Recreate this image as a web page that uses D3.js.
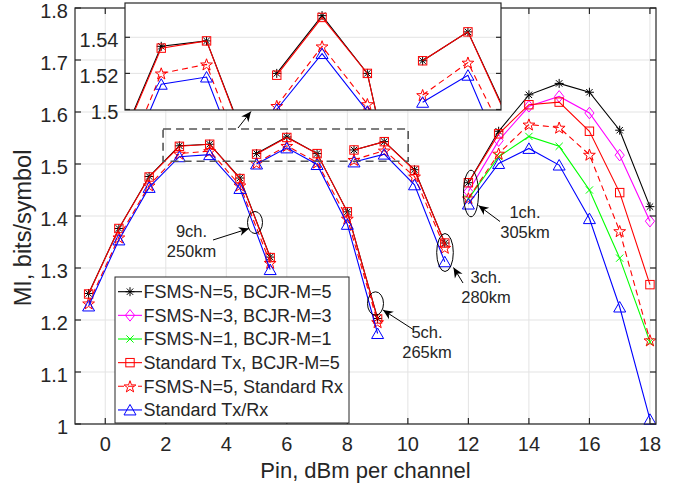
<!DOCTYPE html>
<html><head><meta charset="utf-8">
<script src="https://cdn.jsdelivr.net/npm/d3@7"></script>
<style>
body{margin:0;background:#fff}
svg{display:block}
text{font-family:"Liberation Sans",Arial,Helvetica,sans-serif;fill:#262626}
</style>
</head><body>
<svg id="c" width="678" height="489"></svg>
<script>
// ---------- DATA ----------
// Pin values (dBm per channel); null separates the 9ch / 5ch / 3ch / 1ch groups
const pin = [-0.55,0.45,1.45,2.45,3.45,4.45,5.45, null, 5,6,7,8,9, null, 8.22,9.22,10.22,11.22, null, 12,13,14,15,16,17,18];
const fsmsN5M5 = [1.251,1.376,1.476,1.535,1.538,1.473,1.321, null, 1.520,1.552,1.520,1.408,1.203, null, 1.527,1.543,1.489,1.348, null, 1.464,1.563,1.633,1.655,1.638,1.565,1.418];
const fsmsN3M3 = [null,null,null,null,null,null,null, null, null,null,null,null,null, null, null,null,null,null, null, 1.447,1.545,1.611,1.630,1.598,1.517,1.390];
const fsmsN1M1 = [null,null,null,null,null,null,null, null, null,null,null,null,null, null, null,null,null,null, null, 1.433,1.514,1.553,1.534,1.450,1.319,1.158];
const stdTxM5  = [1.250,1.376,1.475,1.534,1.538,1.472,1.320, null, 1.519,1.551,1.520,1.408,1.202, null, 1.527,1.543,1.488,1.348, null, 1.464,1.558,1.614,1.619,1.563,1.445,1.268];
const fsmsN5StdRx = [1.232,1.359,1.459,1.520,1.525,1.459,1.310, null, 1.502,1.535,1.503,1.395,1.196, null, 1.508,1.526,1.476,1.339, null, 1.434,1.520,1.576,1.570,1.518,1.371,1.161];
const stdTxRx  = [1.227,1.354,1.455,1.514,1.518,1.453,1.297, null, 1.500,1.531,1.499,1.384,1.174, null, 1.504,1.519,1.460,1.312, null, 1.423,1.501,1.530,1.498,1.395,1.225,1.009];

const seriesNames = ["FSMS-N=5, BCJR-M=5","FSMS-N=3, BCJR-M=3","FSMS-N=1, BCJR-M=1","Standard Tx, BCJR-M=5","FSMS-N=5, Standard Rx","Standard Tx/Rx"];
const xTicks = [0,2,4,6,8,10,12,14,16,18];
const yTicks = [1,1.1,1.2,1.3,1.4,1.5,1.6,1.7,1.8];
const yTickLabels = ["1","1.1","1.2","1.3","1.4","1.5","1.6","1.7","1.8"];
const insetYTicks = [1.5,1.52,1.54];
const insetYTickLabels = ["1.5","1.52","1.54"];
const annotations = [
  {lines:["9ch.","250km"]},
  {lines:["5ch.","265km"]},
  {lines:["3ch.","280km"]},
  {lines:["1ch.","305km"]}
];

// ---------- STYLE ----------
const seriesData = [fsmsN5M5,fsmsN3M3,fsmsN1M1,stdTxM5,fsmsN5StdRx,stdTxRx];
const styles = [
  {color:"#000000", marker:"asterisk", dash:null},
  {color:"#ff00ff", marker:"diamond", dash:null},
  {color:"#00ff00", marker:"x", dash:null},
  {color:"#ff0000", marker:"square", dash:null},
  {color:"#ff0000", marker:"star", dash:"6,4"},
  {color:"#0000ff", marker:"triangle", dash:null}
];

const svg = d3.select("#c");
const axisColor = "#262626", gridColor = "#e3e3e3";
const L=75, R=656, T=8, B=424;
const X = d3.scaleLinear().domain([-1,18.2]).range([L,R]);
const Y = d3.scaleLinear().domain([1,1.8]).range([B,T]);

function marker(g, type, x, y, color){
  const s = g.append("g").attr("transform",`translate(${x},${y})`)
    .attr("fill","none").attr("stroke",color).attr("stroke-width",1);
  if(type==="asterisk"){
    const r=4.5, d=3.2;
    s.append("path").attr("d",`M0,${-r}V${r}M${-r},0H${r}M${-d},${-d}L${d},${d}M${-d},${d}L${d},${-d}`);
  } else if(type==="diamond"){
    s.append("path").attr("d","M0,-5.8L4.6,0L0,5.8L-4.6,0Z");
  } else if(type==="x"){
    const d=3.6; s.append("path").attr("d",`M${-d},${-d}L${d},${d}M${-d},${d}L${d},${-d}`);
  } else if(type==="square"){
    s.append("rect").attr("x",-4.2).attr("y",-4.2).attr("width",8.4).attr("height",8.4);
  } else if(type==="star"){
    const pts=[]; const ro=6.2, ri=2.5;
    for(let i=0;i<10;i++){const a=-Math.PI/2+i*Math.PI/5; const r=i%2?ri:ro; pts.push([r*Math.cos(a), r*Math.sin(a)+0.6]);}
    s.append("path").attr("d","M"+pts.map(p=>p.join(",")).join("L")+"Z");
  } else if(type==="triangle"){
    s.append("path").attr("d","M0,-5.5L6,5L-6,5Z");
  }
}

function drawSeries(g, xs, ys, clipId){
  const gg = g.append("g");
  seriesData.forEach((vals,i)=>{
    const st = styles[i];
    const pts = pin.map((p,j)=>({x:p, y:vals[j]}));
    const line = d3.line().defined(d=>d.x!=null && d.y!=null).x(d=>xs(d.x)).y(d=>ys(d.y));
    const lg = gg.append("path").attr("d",line(pts)).attr("fill","none").attr("stroke",st.color)
      .attr("stroke-width",1.1).attr("stroke-dasharray",st.dash);
    if(clipId) lg.attr("clip-path",`url(#${clipId})`);
    const mg = gg.append("g"); if(clipId) mg.attr("clip-path",`url(#${clipId})`);
    pts.filter(d=>d.x!=null && d.y!=null).forEach(d=>marker(mg, st.marker, xs(d.x), ys(d.y), st.color));
  });
}

// ---------- MAIN AXES ----------
svg.append("rect").attr("x",L).attr("y",T).attr("width",R-L).attr("height",B-T).attr("fill","#fff");
const grid = svg.append("g").attr("stroke",gridColor).attr("stroke-width",1);
xTicks.forEach(t=>grid.append("line").attr("x1",X(t)).attr("x2",X(t)).attr("y1",T).attr("y2",B));
yTicks.forEach(t=>grid.append("line").attr("x1",L).attr("x2",R).attr("y1",Y(t)).attr("y2",Y(t)));

drawSeries(svg, X, Y, null);

// zoom rectangle (dashed)
svg.append("rect").attr("x",X(1.91)).attr("y",Y(1.5673)).attr("width",X(10.01)-X(1.91)).attr("height",Y(1.5052)-Y(1.5673))
  .attr("fill","none").attr("stroke","#555").attr("stroke-width",1.6).attr("stroke-dasharray","8,5");

// axes box + ticks
const ax = svg.append("g").attr("stroke",axisColor).attr("stroke-width",1.2);
ax.append("rect").attr("x",L).attr("y",T).attr("width",R-L).attr("height",B-T).attr("fill","none");
xTicks.forEach(t=>{
  ax.append("line").attr("x1",X(t)).attr("x2",X(t)).attr("y1",B).attr("y2",B-6);
  ax.append("line").attr("x1",X(t)).attr("x2",X(t)).attr("y1",T).attr("y2",T+6);
});
yTicks.forEach(t=>{
  ax.append("line").attr("x1",L).attr("x2",L+6).attr("y1",Y(t)).attr("y2",Y(t));
  ax.append("line").attr("x1",R).attr("x2",R-6).attr("y1",Y(t)).attr("y2",Y(t));
});
xTicks.forEach((t,i)=>svg.append("text").attr("x",X(t)).attr("y",451).attr("text-anchor","middle").attr("font-size",20).text(String(t)));
yTicks.forEach((t,i)=>svg.append("text").attr("x",68).attr("y",Y(t)).attr("dy","0.48em").attr("text-anchor","end").attr("font-size",20).text(yTickLabels[i]));
svg.append("text").attr("x",(L+R)/2).attr("y",478).attr("text-anchor","middle").attr("font-size",22).text("Pin, dBm per channel");
svg.append("text").attr("transform","translate(31,228) rotate(-90)").attr("text-anchor","middle").attr("font-size",23.5).text("MI, bits/symbol");

// ---------- INSET ----------
const iL=125, iR=501, iT=3, iB=110;
const XI = d3.scaleLinear().domain([1.65,9.95]).range([iL,iR]);
const YI = d3.scaleLinear().domain([1.5,1.559]).range([109.5,iT]);
svg.append("defs").append("clipPath").attr("id","insetClip").append("rect").attr("x",iL).attr("y",iT).attr("width",iR-iL).attr("height",iB-iT);
svg.append("rect").attr("x",iL).attr("y",iT).attr("width",iR-iL).attr("height",iB-iT).attr("fill","#fff");
const ig = svg.append("g").attr("stroke",gridColor);
insetYTicks.slice(1).forEach(t=>ig.append("line").attr("x1",iL).attr("x2",iR).attr("y1",YI(t)).attr("y2",YI(t)));
drawSeries(svg, XI, YI, "insetClip");
const iax = svg.append("g").attr("stroke",axisColor).attr("stroke-width",1.2);
iax.append("rect").attr("x",iL).attr("y",iT).attr("width",iR-iL).attr("height",iB-iT).attr("fill","none");
insetYTicks.forEach(t=>{
  iax.append("line").attr("x1",iL).attr("x2",iL+5).attr("y1",YI(t)).attr("y2",YI(t));
  iax.append("line").attr("x1",iR).attr("x2",iR-5).attr("y1",YI(t)).attr("y2",YI(t));
});
insetYTicks.forEach((t,i)=>svg.append("text").attr("x",118.5).attr("y",YI(t)).attr("dy","0.48em").attr("text-anchor","end").attr("font-size",20).text(insetYTickLabels[i]));

// ---------- ARROWS / ELLIPSES ----------
function arrow(x1,y1,x2,y2){
  svg.append("line").attr("x1",x1).attr("y1",y1).attr("x2",x2).attr("y2",y2).attr("stroke","#000").attr("stroke-width",1);
  const a=Math.atan2(y2-y1,x2-x1), len=10, w=4.5, back=7;
  const p=(dx,dy)=>[x2+dx*Math.cos(a)-dy*Math.sin(a), y2+dx*Math.sin(a)+dy*Math.cos(a)];
  const pts=[p(0,0),p(-len,-w),p(-back,0),p(-len,w)];
  svg.append("path").attr("d","M"+pts.map(q=>q.join(",")).join("L")+"Z").attr("fill","#000");
}
function ellipse(cx,cy,rx,ry){
  svg.append("ellipse").attr("cx",cx).attr("cy",cy).attr("rx",rx).attr("ry",ry).attr("fill","none").attr("stroke","#000").attr("stroke-width",1);
}
ellipse(255,222.5,7.5,11); arrow(213,240,249,228.5);
ellipse(375.5,303.5,8,11.7); arrow(414,330,383,310);
ellipse(445,252.5,8.3,19); arrow(463,283,453.5,267.5);
ellipse(471,193.5,7.5,23.3); arrow(500,221.5,478.5,205.5);
arrow(238,128,251,111.5);

const annPos = [[191.5,236.5],[427,337.5],[486,283],[525,218]];
annotations.forEach((a,i)=>{
  const t = svg.append("text").attr("text-anchor","middle").attr("font-size",16.5).attr("fill","#000");
  a.lines.forEach((ln,k)=>t.append("tspan").attr("x",annPos[i][0]).attr("y",annPos[i][1]+k*20).text(ln));
});

// ---------- LEGEND ----------
const lg = svg.append("g");
lg.append("rect").attr("x",115).attr("y",277).attr("width",234).attr("height",146).attr("fill","#fff").attr("stroke",axisColor).attr("stroke-width",1);
seriesNames.forEach((n,i)=>{
  const y = 291.7 + i*23.65;
  const st = styles[i];
  lg.append("line").attr("x1",118).attr("x2",142).attr("y1",y).attr("y2",y).attr("stroke",st.color).attr("stroke-width",1.1).attr("stroke-dasharray",st.dash);
  marker(lg, st.marker, 130, y, st.color);
  lg.append("text").attr("x",143.5).attr("y",y).attr("dy","0.36em").attr("font-size",18).attr("fill","#000").text(n);
});
</script>
</body></html>
